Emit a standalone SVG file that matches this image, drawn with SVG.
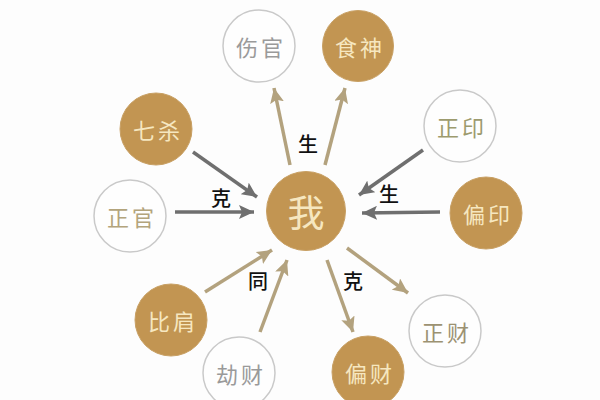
<svg xmlns="http://www.w3.org/2000/svg" width="600" height="400" viewBox="0 0 600 400">
<defs>
<style>
.bg{fill:#fdfdfd}
.fill circle{fill:#c29552;stroke:#c8a064;stroke-width:1}
.fill text{fill:#f6e7c0}
.out circle{fill:#fefefe;stroke:#c9c9c9;stroke-width:1.5}
text{font-family:"Noto Sans CJK SC","Noto Sans CJK TC",sans-serif;text-anchor:middle;dominant-baseline:central}
.nl{font-size:22px;letter-spacing:3px;font-weight:400}
.me{font-size:37px;font-weight:400}
.lbl{font-size:20px;fill:#111;font-weight:500}
.g{stroke:#6f6f6f;stroke-width:3.5;fill:none}
.t{stroke:#b3a27e;stroke-width:3.5;fill:none}
</style>
<marker id="ag" markerUnits="userSpaceOnUse" markerWidth="16" markerHeight="14" refX="15" refY="7" orient="auto"><path d="M0,0 L15,7 L0,14 L3,7 z" fill="#6f6f6f"/></marker>
<marker id="at" markerUnits="userSpaceOnUse" markerWidth="16" markerHeight="14" refX="15" refY="7" orient="auto"><path d="M0,0 L15,7 L0,14 L3,7 z" fill="#b3a27e"/></marker>
</defs>
<rect class="bg" x="0" y="0" width="600" height="400"/>
<g id="connectors">
<line class="g" x1="193" y1="152" x2="257" y2="197" marker-end="url(#ag)"/>
<line class="g" x1="175" y1="212" x2="254" y2="212" marker-end="url(#ag)"/>
<line class="g" x1="423" y1="150" x2="359" y2="195" marker-end="url(#ag)"/>
<line class="g" x1="440" y1="212" x2="362" y2="213" marker-end="url(#ag)"/>
<line class="t" x1="290" y1="165" x2="274" y2="88" marker-end="url(#at)"/>
<line class="t" x1="325" y1="165" x2="345" y2="88" marker-end="url(#at)"/>
<line class="t" x1="205" y1="292" x2="272" y2="250" marker-end="url(#at)"/>
<line class="t" x1="260" y1="332" x2="287" y2="260" marker-end="url(#at)"/>
<line class="t" x1="327" y1="260" x2="353" y2="332" marker-end="url(#at)"/>
<line class="t" x1="347" y1="248" x2="408" y2="293" marker-end="url(#at)"/>
<text class="lbl" x="221" y="197">克</text>
<text class="lbl" x="308" y="143">生</text>
<text class="lbl" x="389" y="193">生</text>
<text class="lbl" x="258" y="280">同</text>
<text class="lbl" x="353" y="280">克</text>
</g>
<g id="wo" class="fill"><circle cx="306" cy="211" r="39.5"/><text class="me" x="306" y="211">我</text></g>
<g id="shangguan" class="out"><circle cx="259" cy="46" r="36"/><text class="nl" x="261" y="46" fill="#9a9a9a">伤官</text></g>
<g id="shishen" class="fill"><circle cx="358" cy="46" r="35.5"/><text class="nl" x="360" y="46">食神</text></g>
<g id="qisha" class="fill"><circle cx="156" cy="129" r="36"/><text class="nl" x="158" y="129">七杀</text></g>
<g id="zhengguan" class="out"><circle cx="130" cy="216" r="36"/><text class="nl" x="132" y="216" fill="#b3a47c">正官</text></g>
<g id="zhengyin" class="out"><circle cx="460" cy="126" r="36"/><text class="nl" x="462" y="126" fill="#9d9b6e">正印</text></g>
<g id="pianyin" class="fill"><circle cx="486" cy="213" r="36"/><text class="nl" x="488" y="213">偏印</text></g>
<g id="bijian" class="fill"><circle cx="171" cy="320" r="36"/><text class="nl" x="173" y="320">比肩</text></g>
<g id="jiecai" class="out"><circle cx="239" cy="373" r="36"/><text class="nl" x="241" y="373" fill="#9a9a9a">劫财</text></g>
<g id="piancai" class="fill"><circle cx="368" cy="372" r="36"/><text class="nl" x="370" y="372">偏财</text></g>
<g id="zhengcai" class="out"><circle cx="445" cy="331" r="36"/><text class="nl" x="447" y="331" fill="#9c9272">正财</text></g>
</svg>
